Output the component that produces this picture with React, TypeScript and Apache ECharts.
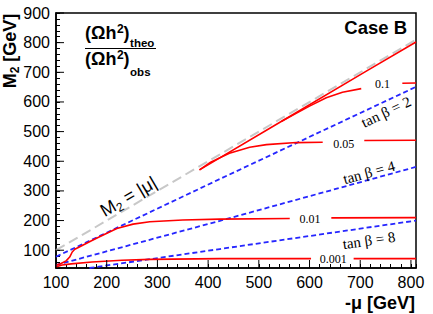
import React, { useEffect, useRef } from 'react';
import * as echarts from 'echarts';

// Axis ranges and tick labels
const X_MIN = 100;
const X_MAX = 810;
const Y_MIN = 40;
const Y_MAX = 900;
const xMajorTicks = [100, 200, 300, 400, 500, 600, 700, 800];
const yMajorTicks = [100, 200, 300, 400, 500, 600, 700, 800, 900];

// M2 = |mu| reference line
const diagonalM2Mu = [[100, 100], [810, 810]];

// tan beta lines (blue dashed)
const tanBeta2 = [[100, 78], [423, 340], [810, 651]];
const tanBeta4 = [[100, 50], [423, 199], [810, 381]];
const tanBeta8 = [[166, 40], [423, 104], [810, 200]];

// relic density ratio contours (red)
const ratio01Edge = [[383, 371], [545, 535], [712, 704], [810, 802]];
const ratio01Branch = [[545, 535], [570, 558], [600, 586], [633, 614], [665, 633], [702, 645]];
const ratio01Right = [[783, 663], [810, 664]];
const ratio005Left = [[383, 371], [405, 397], [442, 427], [482, 447], [515, 456], [574, 463], [626, 464]];
const ratio005Right = [[708, 470], [810, 471]];
const ratio0010Left = [
  [100.5, 50], [110, 55], [120, 64], [127, 77], [132, 94], [137, 103], [145, 110],
  [170, 132], [187, 146], [220, 173], [252, 188], [285, 196], [350, 202], [423, 205], [561, 207],
];
const ratio0010Right = [[643, 209], [810, 210]];
const ratio0001Left = [[100.5, 44], [112, 50], [130, 54], [171, 60], [230, 66], [285, 69], [423, 71.5], [603, 71.5]];
const ratio0001Right = [[687, 71.5], [810, 71.5]];

const RED = '#ff0000';
const BLUE = '#2626ff';
const GRAY = '#c8c8c8';

const redLine = (data: number[][]) => ({
  type: 'line',
  data,
  showSymbol: false,
  symbol: 'none',
  silent: true,
  z: 4,
  lineStyle: { color: RED, width: 1.6 },
});

const blueLine = (data: number[][]) => ({
  type: 'line',
  data,
  showSymbol: false,
  symbol: 'none',
  silent: true,
  z: 3,
  lineStyle: { color: BLUE, width: 1.8, type: [5, 3] },
});

const SANS = 'Liberation Sans, Arial, Helvetica, sans-serif';
const SERIF = 'Liberation Serif, Times New Roman, serif';

const measure = (text: string, size: number, weight = 'normal', family = SANS) => {
  const c = document.createElement('canvas').getContext('2d');
  if (!c) return text.length * size * 0.6;
  c.font = `${weight} ${size}px ${family}`;
  return c.measureText(text).width;
};

const txt = (
  text: string,
  x: number,
  y: number,
  opts: { size?: number; weight?: string; family?: string; align?: string; vAlign?: string; rotation?: number; rich?: any } = {}
) => ({
  type: 'text',
  x,
  y,
  rotation: opts.rotation || 0,
  silent: true,
  z: 10,
  style: {
    text,
    x: 0,
    y: 0,
    fill: '#000',
    fontSize: opts.size || 14,
    fontWeight: opts.weight || 'normal',
    fontFamily: opts.family || SANS,
    align: opts.align || 'left',
    textAlign: opts.align || 'left',
    verticalAlign: opts.vAlign || 'middle',
    textVerticalAlign: opts.vAlign || 'middle',
    rich: opts.rich,
  },
});

// (Ωh²)_sub built from measured pieces
const omegaTerm = (x0: number, yMain: number, sub: string, subDy: number) => {
  const mainSize = 18;
  const supSize = 12;
  const subSize = 11.5;
  const w1 = measure('(Ωh', mainSize, 'bold');
  const w2 = measure('2', supSize, 'bold');
  const w3 = measure(')', mainSize, 'bold');
  return [
    txt('(Ωh', x0, yMain, { size: mainSize, weight: 'bold' }),
    txt('2', x0 + w1 + 0.5, yMain - 4, { size: supSize, weight: 'bold' }),
    txt(')', x0 + w1 + w2 + 0.5, yMain, { size: mainSize, weight: 'bold' }),
    txt(sub, x0 + w1 + w2 + w3 + 1, yMain + subDy, { size: subSize, weight: 'bold' }),
  ];
};

const App: React.FC = () => {
  const ref = useRef<HTMLDivElement>(null);

  useEffect(() => {
    document.body.style.margin = '0';
    if (!ref.current) return;
    const chart = echarts.init(ref.current, undefined, { renderer: 'svg' });

    const labelFmt = (v: number) => (v % 100 === 0 ? String(v) : '');

    const option: any = {
      animation: false,
      backgroundColor: '#fff',
      grid: {
        left: 56,
        right: 17,
        top: 13,
        bottom: 46,
        show: true,
        borderColor: '#000',
        borderWidth: 1.5,
        backgroundColor: 'transparent',
      },
      xAxis: {
        type: 'value',
        min: X_MIN,
        max: X_MAX,
        interval: 20,
        axisLine: { show: true, lineStyle: { color: '#000', width: 1.5 } },
        axisTick: { show: true, inside: true, length: 4, lineStyle: { color: '#000', width: 1 } },
        splitLine: { show: false },
        axisLabel: { formatter: labelFmt, color: '#000', fontSize: 16, fontFamily: SANS, margin: 6 },
      },
      yAxis: {
        type: 'value',
        min: Y_MIN,
        max: Y_MAX,
        interval: 20,
        axisLine: { show: true, lineStyle: { color: '#000', width: 1.5 } },
        axisTick: { show: true, inside: true, length: 4, lineStyle: { color: '#000', width: 1 } },
        splitLine: { show: false },
        axisLabel: { formatter: labelFmt, color: '#000', fontSize: 16, fontFamily: SANS, margin: 6 },
      },
      series: [
        {
          type: 'line',
          data: diagonalM2Mu,
          showSymbol: false,
          symbol: 'none',
          silent: true,
          z: 2,
          lineStyle: { color: GRAY, width: 2, type: [10, 5] },
        },
        blueLine(tanBeta2),
        blueLine(tanBeta4),
        blueLine(tanBeta8),
        redLine(ratio01Edge),
        redLine(ratio01Branch),
        redLine(ratio01Right),
        redLine(ratio005Left),
        redLine(ratio005Right),
        redLine(ratio0010Left),
        redLine(ratio0010Right),
        redLine(ratio0001Left),
        redLine(ratio0001Right),
        {
          type: 'custom',
          silent: true,
          z: 6,
          data: xMajorTicks.map((v) => [v, Y_MIN]),
          renderItem: (_p: any, api: any) => {
            const p = api.coord([api.value(0), api.value(1)]);
            return {
              type: 'line',
              shape: { x1: p[0], y1: p[1], x2: p[0], y2: p[1] - 8 },
              style: { stroke: '#000', lineWidth: 1 },
            };
          },
        },
        {
          type: 'custom',
          silent: true,
          z: 6,
          data: yMajorTicks.map((v) => [X_MIN, v]),
          renderItem: (_p: any, api: any) => {
            const p = api.coord([api.value(0), api.value(1)]);
            return {
              type: 'line',
              shape: { x1: p[0], y1: p[1], x2: p[0] + 8, y2: p[1] },
              style: { stroke: '#000', lineWidth: 1 },
            };
          },
        },
      ],
      graphic: [
        // axis titles
        txt('{m|M}{s|2}{m| [GeV]}', 10, 51, {
          align: 'center',
          rotation: Math.PI / 2,
          rich: {
            m: { fontSize: 18, fontWeight: 'bold', fontFamily: SANS, lineHeight: 22 },
            s: { fontSize: 12, fontWeight: 'bold', fontFamily: SANS, lineHeight: 8, verticalAlign: 'bottom' },
          },
        }),
        txt('-μ [GeV]', 415, 303, { size: 18, weight: 'bold', align: 'right' }),
        txt('Case B', 407, 27, { size: 18.5, weight: 'bold', align: 'right' }),
        // fraction
        ...omegaTerm(85, 33, 'theo', 10),
        {
          type: 'line',
          silent: true,
          z: 10,
          shape: { x1: 85, y1: 48.5, x2: 156, y2: 48.5 },
          style: { stroke: '#000', lineWidth: 1.2 },
        },
        ...omegaTerm(85, 59, 'obs', 13),
        // diagonal label
        txt('{m|M}{s|2}{m| = |μ|}', 128.5, 196.5, {
          align: 'center',
          rotation: 0.53,
          rich: {
            m: { fontSize: 18, fontFamily: SANS, lineHeight: 22 },
            s: { fontSize: 12, fontFamily: SANS, lineHeight: 8, verticalAlign: 'bottom' },
          },
        }),
        // tan beta labels
        txt('tan β = 2', 386, 112, { size: 15, family: SERIF, align: 'center', rotation: 0.445 }),
        txt('tan β = 4', 369, 172.5, { size: 15, family: SERIF, align: 'center', rotation: 0.265 }),
        txt('tan β = 8', 369, 240.5, { size: 15, family: SERIF, align: 'center', rotation: 0.143 }),
        // contour labels
        txt('0.1', 382.5, 84, { size: 12, family: SERIF, align: 'center' }),
        txt('0.05', 343.7, 144, { size: 12, family: SERIF, align: 'center' }),
        txt('0.01', 310, 219, { size: 12, family: SERIF, align: 'center' }),
        txt('0.001', 333.3, 259, { size: 12, family: SERIF, align: 'center' }),
      ],
    };

    chart.setOption(option);
    return () => {
      chart.dispose();
    };
  }, []);

  return <div ref={ref} style={{ width: 433, height: 314, background: '#fff' }} />;
};

export default App;
